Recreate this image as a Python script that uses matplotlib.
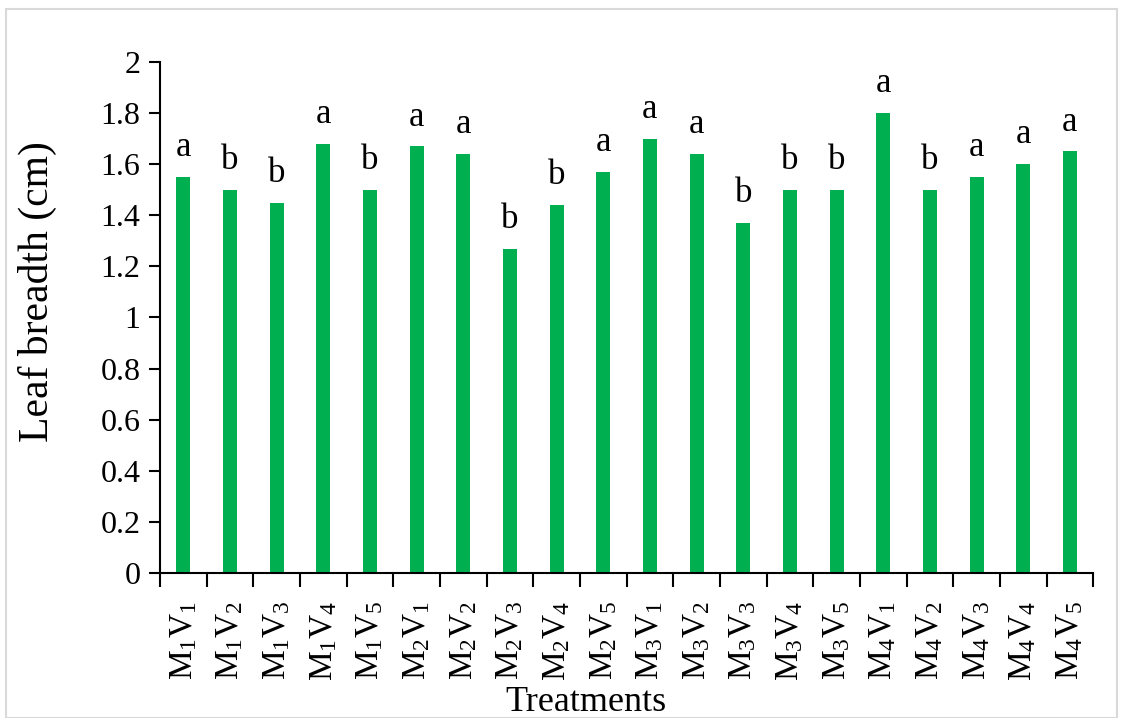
import matplotlib
matplotlib.use("Agg")
import matplotlib.pyplot as plt
from matplotlib.patches import Rectangle
from matplotlib.ticker import FixedLocator

plt.rcParams['font.family'] = ['Liberation Serif', 'DejaVu Serif']
plt.rcParams['mathtext.fontset'] = 'custom'
plt.rcParams['mathtext.rm'] = 'Liberation Serif'
plt.rcParams['mathtext.it'] = 'Liberation Serif:italic'

# Leaf breadth by treatment (M = main factor, V = variety)
treatments = [f"M{m}V{v}" for m in range(1, 5) for v in range(1, 6)]
leaf_breadth = [1.55, 1.50, 1.45, 1.68, 1.50,
                1.67, 1.64, 1.27, 1.44, 1.57,
                1.70, 1.64, 1.37, 1.50, 1.50,
                1.80, 1.50, 1.55, 1.60, 1.65]
letters = ['a', 'b', 'b', 'a', 'b',
           'a', 'a', 'b', 'b', 'a',
           'a', 'a', 'b', 'b', 'b',
           'a', 'b', 'a', 'a', 'a']
y_ticks = [0, 0.2, 0.4, 0.6, 0.8, 1, 1.2, 1.4, 1.6, 1.8, 2]

def tick_label(name):
    # "M1V2" -> M with subscript 1, V with subscript 2
    return r'$\mathregular{M_{%s}V_{%s}}$' % (name[1], name[3])

fig = plt.figure(figsize=(11.23, 7.18), dpi=100)
fig.patches.append(Rectangle((0.005, 0.0), 0.99, 0.987, transform=fig.transFigure,
                             fill=False, edgecolor='#d9d9d9', linewidth=1.5))
ax = fig.add_axes([0.1425, 0.202, 0.831, 0.7116])

x = range(len(treatments))
ax.bar(x, leaf_breadth, width=0.3, color='#00B050')

for xi, val, lab in zip(x, leaf_breadth, letters):
    ax.text(xi, val + 0.05, lab, ha='center', va='bottom', fontsize=25)

ax.set_xlim(-0.5, len(treatments) - 0.5)
ax.set_ylim(0, 2)
ax.set_yticks(y_ticks)
ax.set_yticklabels([f"{v:g}" for v in y_ticks])

ax.set_xticks(list(x))
ax.set_xticklabels([tick_label(t) for t in treatments], rotation=90, fontsize=24)
ax.xaxis.set_minor_locator(FixedLocator([i - 0.5 for i in range(len(treatments) + 1)]))
ax.tick_params(axis='x', which='major', length=0, pad=20)
ax.tick_params(axis='x', which='minor', length=10, width=1.5, direction='out')
ax.tick_params(axis='y', length=8, width=1.5, direction='out', labelsize=23, pad=6)

for side in ['top', 'right']:
    ax.spines[side].set_visible(False)
for side in ['left', 'bottom']:
    ax.spines[side].set_linewidth(1.5)

fig.text(37 / 1123, 1 - 292 / 718, 'Leaf breadth (cm)', rotation=90,
         ha='center', va='center', fontsize=30)
fig.text(586 / 1123, 1 - 711 / 718, 'Treatments', ha='center', va='baseline',
         fontsize=26)

fig.savefig('out.png', dpi=100)
